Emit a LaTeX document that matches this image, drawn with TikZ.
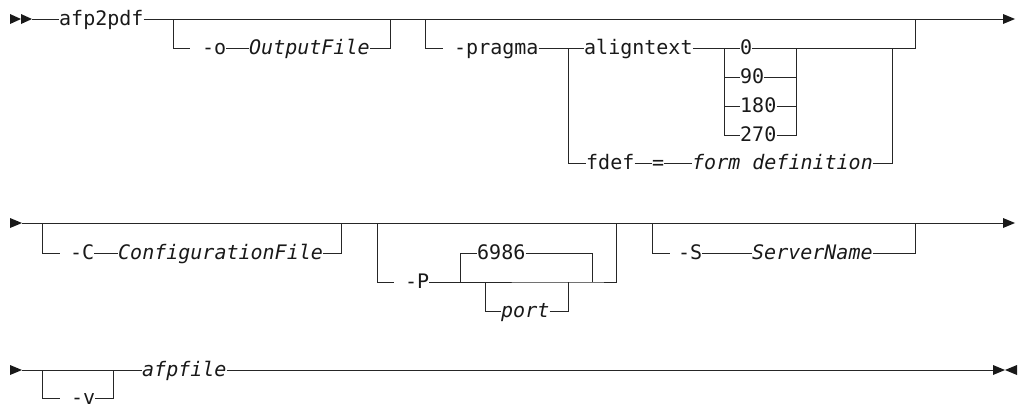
\documentclass[tikz,border=0pt]{standalone}
\usepackage{fontspec}
\newfontfamily\monofam{DejaVu Sans Mono}
\begin{document}
\begin{tikzpicture}[x=1pt,y=-1pt,
  rail/.style={draw=black!85, line width=1pt},
  tip/.style={fill=black!90},
  kw/.style={inner sep=0pt, anchor=west, text height=12pt, text depth=0pt, text=black!90, font={\fontsize{20}{24}\monofam}},
  var/.style={kw, font={\fontsize{20}{24}\monofam\itshape}}]
\useasboundingbox (0,0) rectangle (1018,407);

% ---------------- row 1 ----------------
\fill[tip] (10,14) -- (21,19) -- (10,24) -- cycle;
\fill[tip] (21,14) -- (32,19) -- (21,24) -- cycle;
\coordinate (s1) at (32,19);
\node[kw] (afp) at (59,19) {afp2pdf};
\coordinate (e1) at (1003,19);
\draw[rail] (s1) -- (afp.west);
\draw[rail] (afp.east) -- (e1);
\fill[tip] (1003,14) -- (1015,19) -- (1003,24) -- cycle;

% -o OutputFile
\coordinate (o1) at (173,19);
\coordinate (o1b) at (190,48);
\coordinate (o2) at (390,19);
\node[kw] (oo) at (202,48) {-o};
\node[var] (of) at (249,48) {OutputFile};
\draw[rail] (o1) |- (o1b);
\draw[rail] (oo.east) -- (of.west);
\draw[rail] (of.east) -| (o2);

% -pragma
\coordinate (p1) at (425,19);
\coordinate (p1b) at (443,48);
\coordinate (p2) at (915,19);
\coordinate (pj) at (568,48);
\node[kw] (pr) at (454,48) {-pragma};
\node[kw] (al) at (584,48) {aligntext};
\draw[rail] (p1) |- (p1b);
\draw[rail] (pr.east) -- (al.west);

\node[kw] (v0) at (740,48) {0};
\node[kw] (v90) at (740,77) {90};
\node[kw] (v180) at (740,106) {180};
\node[kw] (v270) at (740,135) {270};
\coordinate (vl) at (724,48);
\coordinate (vr) at (796,48);
\coordinate (cj) at (892,48);
\draw[rail] (al.east) -- (v0.west);
\draw[rail] (v0.east) -| (p2);
\draw[rail] (vl) |- (v270.west);
\draw[rail] (vl |- v90) -- (v90.west);
\draw[rail] (vl |- v180) -- (v180.west);
\draw[rail] (v270.east) -| (vr);
\draw[rail] (v90.east) -- (vr |- v90);
\draw[rail] (v180.east) -- (vr |- v180);

\node[kw] (fd) at (586,163) {fdef};
\node[kw] (eq) at (652,163) {=};
\node[var] (fdn) at (692,163) {form definition};
\draw[rail] (pj) |- (fd.west);
\draw[rail] (fd.east) -- (eq.west);
\draw[rail] (eq.east) -- (fdn.west);
\draw[rail] (fdn.east) -| (cj);

% ---------------- row 2 ----------------
\fill[tip] (10,218) -- (22,223) -- (10,228) -- cycle;
\coordinate (s2) at (22,223);
\coordinate (e2) at (1003,223);
\draw[rail] (s2) -- (e2);
\fill[tip] (1003,218) -- (1015,223) -- (1003,228) -- cycle;

% -C
\coordinate (c1) at (42,223);
\coordinate (c1b) at (60,253);
\coordinate (c2) at (341,223);
\node[kw] (cc) at (70,253) {-C};
\node[var] (cf) at (118,253) {ConfigurationFile};
\draw[rail] (c1) |- (c1b);
\draw[rail] (cc.east) -- (cf.west);
\draw[rail] (cf.east) -| (c2);

% -P
\coordinate (q1) at (377,223);
\coordinate (q1b) at (394,282);
\coordinate (q2) at (616,223);
\coordinate (pa) at (460,282);
\coordinate (pb) at (592,282);
\coordinate (pc) at (485,282);
\coordinate (pd) at (568,282);
\node[kw] (PP) at (405,282) {-P};
\node[kw] (dflt) at (477,253) {6986};
\node[var] (po) at (501,311) {port};
\draw[rail] (q1) |- (q1b);
\draw[rail] (PP.east) -- (pb) -| (q2);
\draw[rail] (pa) |- (dflt.west);
\draw[rail] (dflt.east) -| (pb);
\draw[rail] (pc) |- (po.west);
\draw[rail] (po.east) -| (pd);

% -S
\coordinate (r1) at (652,223);
\coordinate (r1b) at (670,253);
\coordinate (r2) at (915,223);
\node[kw] (SS) at (678,253) {-S};
\node[var] (sn) at (752,253) {ServerName};
\draw[rail] (r1) |- (r1b);
\draw[rail] (SS.east) -- (sn.west);
\draw[rail] (sn.east) -| (r2);

% ---------------- row 3 ----------------
\fill[tip] (10,365) -- (22,370) -- (10,375) -- cycle;
\coordinate (s3) at (22,370);
\coordinate (e3) at (993,370);
\node[var] (af) at (142,370) {afpfile};
\draw[rail] (s3) -- (af.west);
\draw[rail] (af.east) -- (e3);
\fill[tip] (993,365) -- (1005,370) -- (993,375) -- cycle;
\fill[tip] (1017,365) -- (1005,370) -- (1017,375) -- cycle;

% -v
\coordinate (w1) at (42,370);
\coordinate (w1b) at (60,398);
\coordinate (w2) at (113,370);
\node[kw] (vv) at (71,398) {-v};
\draw[rail] (w1) |- (w1b);
\draw[rail] (vv.east) -| (w2);
\end{tikzpicture}
\end{document}
